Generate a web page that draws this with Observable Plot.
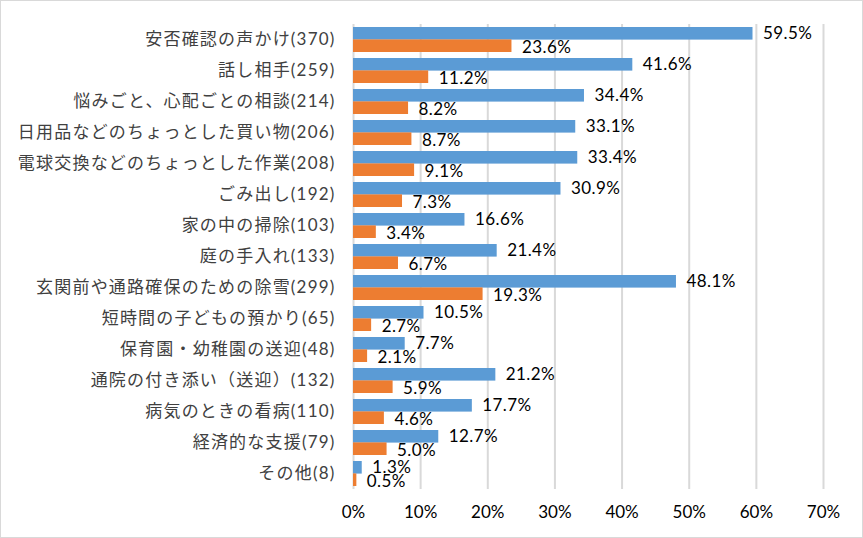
<!DOCTYPE html>
<html>
<head>
<meta charset="utf-8">
<script src="https://cdn.jsdelivr.net/npm/d3@7"></script>
<script src="https://cdn.jsdelivr.net/npm/@observablehq/plot@0.6"></script>
<style>
  body { margin: 0; background: #fff; }
  #chart svg { display: block; outline: 1px solid #d9d9d9; outline-offset: -1px; }
  #chart g[aria-label="y-axis tick label"] text { letter-spacing: 1.2px; }
  #chart g[aria-label="text"] text { letter-spacing: 0.4px; }
</style>
</head>
<body>
<div id="chart"></div>
<script>
const categories = [
  "安否確認の声かけ", "話し相手", "悩みごと、心配ごとの相談", "日用品などのちょっとした買い物",
  "電球交換などのちょっとした作業", "ごみ出し", "家の中の掃除", "庭の手入れ",
  "玄関前や通路確保のための除雪", "短時間の子どもの預かり", "保育園・幼稚園の送迎",
  "通院の付き添い（送迎）", "病気のときの看病", "経済的な支援", "その他"
];
const counts = [370, 259, 214, 206, 208, 192, 103, 133, 299, 65, 48, 132, 110, 79, 8];
const seriesA = [59.5, 41.6, 34.4, 33.1, 33.4, 30.9, 16.6, 21.4, 48.1, 10.5, 7.7, 21.2, 17.7, 12.7, 1.3];
const seriesB = [23.6, 11.2, 8.2, 8.7, 9.1, 7.3, 3.4, 6.7, 19.3, 2.7, 2.1, 5.9, 4.6, 5.0, 0.5];
const xTicks = [0, 10, 20, 30, 40, 50, 60, 70];

const labels = categories.map((c, i) => `${c}(${counts[i]})`);
const rowsA = labels.map((l, i) => ({label: l, value: seriesA[i]}));
const rowsB = labels.map((l, i) => ({label: l, value: seriesB[i]}));

const half = 31 * 0.8 / 2;
const fontFam = "Lato, 'Noto Sans CJK JP', sans-serif";

const chart = Plot.plot({
  width: 863,
  height: 538,
  marginLeft: 353,
  marginRight: 40,
  marginTop: 24,
  marginBottom: 49,
  style: {fontFamily: fontFam, fontSize: "16px", color: "#404040", background: "#fff"},
  x: {domain: [0, 70], ticks: xTicks, tickFormat: d => d + "%", label: null},
  y: {domain: labels, paddingInner: 0.2, paddingOuter: 0.1, label: null},
  marks: [
    Plot.gridX(xTicks, {stroke: "#d9d9d9", strokeOpacity: 1, strokeWidth: 2}),
    Plot.barX(rowsA, {x: "value", y: "label", fill: "#5b9bd5", insetBottom: half}),
    Plot.barX(rowsB, {x: "value", y: "label", fill: "#ed7d31", insetTop: half}),
    Plot.text(rowsA, {x: "value", y: "label", text: d => d.value.toFixed(1) + "%", dx: 10, dy: -half / 2, textAnchor: "start", fontSize: 17, fill: "#000"}),
    Plot.text(rowsB, {x: "value", y: "label", text: d => d.value.toFixed(1) + "%", dx: 10, dy: half / 2 + 1, textAnchor: "start", fontSize: 17, fill: "#000"}),
    Plot.axisX(xTicks, {tickSize: 0, tickPadding: 16, fontSize: 17, tickFormat: d => d + "%", fill: "#000", label: null}),
    Plot.axisY({tickSize: 0, tickPadding: 18, fontSize: 17, fill: "#404040", label: null})
  ]
});
document.getElementById("chart").append(chart);
</script>
</body>
</html>
